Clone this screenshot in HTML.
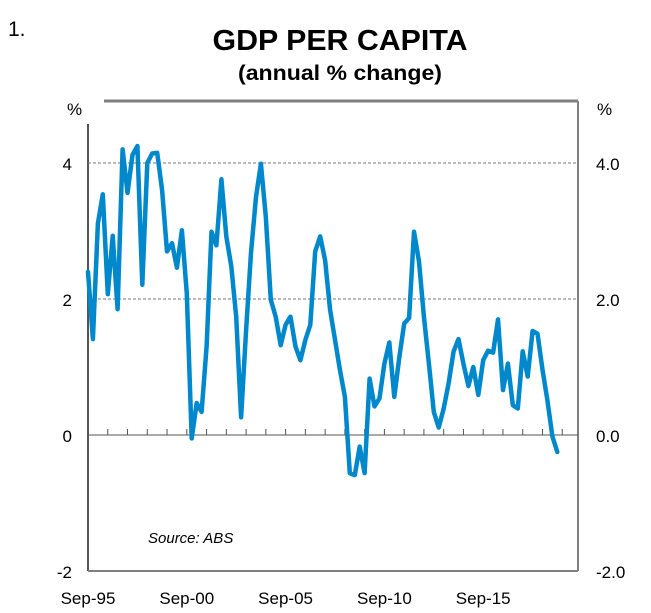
<!DOCTYPE html>
<html><head><meta charset="utf-8"><style>
body{margin:0;background:#fff;}
svg{display:block;font-family:"Liberation Sans",Arial,sans-serif;}
</style></head><body>
<svg id="chart" width="651" height="613" viewBox="0 0 651 613">
<text x="8" y="36" font-size="21" fill="#000">1.</text>
<text x="340" y="50" font-size="29" font-weight="bold" text-anchor="middle" textLength="255" lengthAdjust="spacingAndGlyphs">GDP PER CAPITA</text>
<text x="340" y="80" font-size="21" font-weight="bold" text-anchor="middle" textLength="204" lengthAdjust="spacingAndGlyphs">(annual % change)</text>
<g id="axes"></g>
<g id="series"></g>
<text x="148" y="543" font-size="15" font-style="italic">Source: ABS</text>
</svg>
<script>
const values=[2.40,1.41,3.11,3.54,2.07,2.93,1.85,4.20,3.56,4.12,4.25,2.21,4.00,4.14,4.15,3.60,2.70,2.82,2.46,3.01,2.08,-0.05,0.47,0.34,1.30,2.99,2.79,3.76,2.92,2.48,1.74,0.26,1.54,2.68,
3.50,3.99,3.21,1.99,1.74,1.32,1.62,1.74,1.30,1.10,1.40,1.62,2.70,2.92,2.57,1.84,1.40,0.96,0.56,-0.56,-0.59,-0.17,-0.56,0.83,0.42,0.54,1.05,1.36,0.56,1.13,1.64,1.72,
2.99,2.55,1.74,1.05,0.34,0.11,0.39,0.76,1.23,1.41,1.05,0.72,1.00,0.59,1.10,1.24,1.21,1.70,0.66,1.05,0.44,0.39,1.23,0.86,1.53,1.49,0.96,0.51,-0.02,-0.25];
const xTickLabels=["Sep-95","Sep-00","Sep-05","Sep-10","Sep-15"];
const xTickYears=[0,5,10,15,20];
const yTicks=[-2,0,2,4];
const yLeftLabels=["-2","0","2","4"];
const yRightLabels=["-2.0","0.0","2.0","4.0"];
const NS="http://www.w3.org/2000/svg";
const L=88,R=578,T=101,B=571;
const qW=4.94;
const xQ=i=>L+i*qW;
const xYear=y=>L+y*4*qW;
const yV=v=>435-v*68;
const axes=document.getElementById('axes');
function mk(tag,attrs,parent){const e=document.createElementNS(NS,tag);for(const k in attrs)e.setAttribute(k,attrs[k]);parent.appendChild(e);return e;}
let e=mk('line',{x1:104,y1:T,x2:R,y2:T,stroke:'#808080','stroke-width':3},axes);


e=mk('line',{x1:R,y1:T,x2:R,y2:B,stroke:'#808080','stroke-width':2},axes);


e=mk('line',{x1:L,y1:124,x2:L,y2:B,stroke:'#555','stroke-width':2},axes);


e=mk('line',{x1:L,y1:B,x2:R,y2:B,stroke:'#808080','stroke-width':2},axes);


yTicks.forEach((v,i)=>{
 const y=yV(v);
 if(v===2||v===4){
  const g=mk('line',{x1:L,y1:y,x2:R,y2:y,stroke:'#777','stroke-width':1,'stroke-dasharray':'3,2'},axes);
  
  
 }
 if(v===0){
  const z=mk('line',{x1:L,y1:y,x2:R,y2:y,stroke:'#555','stroke-width':1},axes);
  
  
 }
 const tl=mk('text',{x:72,y:y+7,'font-size':17,'text-anchor':'end'},axes);
 tl.textContent=yLeftLabels[i];
 
 
 const tr=mk('text',{x:596,y:y+7,'font-size':17},axes);
 tr.textContent=yRightLabels[i];
 
 
});
let p=mk('text',{x:67,y:115,'font-size':17},axes);p.textContent='%';


p=mk('text',{x:597,y:115,'font-size':17},axes);p.textContent='%';


for(let yr=1;yr<=24;yr++){
 const x=xYear(yr);if(x>R-2)break;
 const t=mk('line',{x1:x,y1:429,x2:x,y2:435,stroke:'#555','stroke-width':1},axes);
 
 
}
xTickLabels.forEach((lab,i)=>{
 const t=mk('text',{x:xYear(xTickYears[i]),y:604,'font-size':17,'text-anchor':'middle'},axes);
 t.textContent=lab;
 
 
});
const pts=values.map((v,i)=>xQ(i).toFixed(1)+','+yV(v).toFixed(1)).join(' ');
const line=mk('polyline',{points:pts,fill:'none',stroke:'#0088cc','stroke-width':4.5,'stroke-linejoin':'round','stroke-linecap':'round'},document.getElementById('series'));


</script>
</body></html>
